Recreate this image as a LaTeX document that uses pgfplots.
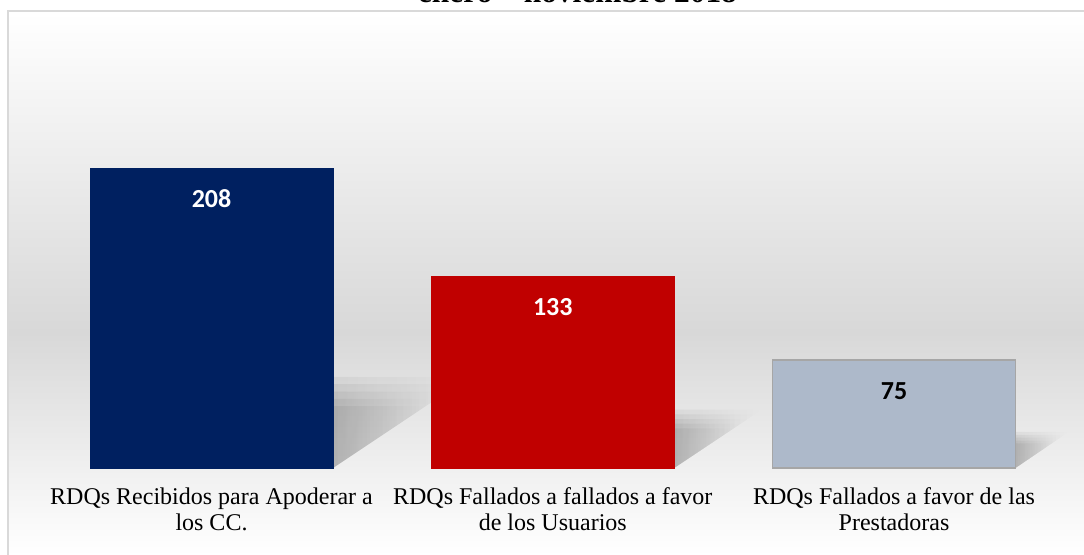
\documentclass[border=0pt]{standalone}
\usepackage{pgfplots}
\pgfplotsset{compat=1.18}
\usepackage{fontspec}
\setmainfont{Liberation Serif}
\newfontfamily\valfont{Carlito}
\usetikzlibrary{fadings}
\definecolor{navy}{HTML}{002060}
\definecolor{cred}{HTML}{C00000}
\definecolor{cgray}{HTML}{ADB9CA}
\definecolor{cgrayb}{HTML}{A6A6A6}
\definecolor{framec}{HTML}{D9D9D9}
\definecolor{bgmid}{HTML}{D8D8D8}
\pgfdeclareverticalshading{bgshade}{100bp}{color(0bp)=(white); color(25bp)=(white); color(45.5bp)=(bgmid); color(75bp)=(white); color(100bp)=(white)}
\tikzfading[name=fadeR, left color=transparent!0, right color=transparent!100]
\pgfplotsset{shd/.style={draw=none, fill=black, fill opacity=0.055, path fading=fadeR}}
\begin{document}
\begin{tikzpicture}
\useasboundingbox (0,0) rectangle (542pt,277.5pt);
\clip (0,0) rectangle (542pt,277.5pt);
\shade[shading=bgshade] (4.5pt,0) rectangle (542pt,271.5pt);
\draw[framec, line width=1pt] (3.75pt,0) -- (3.75pt,272pt) -- (542pt,272pt);
\node[anchor=base, font=\bfseries\fontsize{15.7}{18}\selectfont, inner sep=0pt] at (288.75pt,276pt) {enero -- noviembre 2018};
\begin{axis}[
  at={(20.45pt,43.5pt)}, anchor=south west, scale only axis,
  width=511.875pt, height=180.3pt,
  xmin=-0.5, xmax=2.5, ymin=0, ymax=250, clip=false,
  axis line style={draw=none}, ytick=\empty, xtick={0,1,2}, major tick length=0pt,
  xticklabels={{RDQs Recibidos para Apoderar a\\los CC.},{RDQs Fallados a fallados a favor\\de los Usuarios},{RDQs Fallados a favor de las\\Prestadoras}},
  xticklabel style={align=center, font=\fontsize{12}{13}\selectfont, yshift=-6.3pt, text=black},
  /pgf/number format/assume math mode=true,
]
% soft perspective shadows (layered)
\addplot[shd] coordinates {(0.356,0) (0.628,42.9) (0.356,42.9)} -- cycle;
\addplot[shd] coordinates {(0.356,0) (0.660,48.0) (0.356,48.0)} -- cycle;
\addplot[shd] coordinates {(0.356,0) (0.692,53.0) (0.356,53.0)} -- cycle;
\addplot[shd] coordinates {(0.356,0) (0.724,58.1) (0.356,58.1)} -- cycle;
\addplot[shd] coordinates {(0.356,0) (0.756,63.1) (0.356,63.1)} -- cycle;
\addplot[shd] coordinates {(1.356,0) (1.530,27.5) (1.356,27.5)} -- cycle;
\addplot[shd] coordinates {(1.356,0) (1.551,30.7) (1.356,30.7)} -- cycle;
\addplot[shd] coordinates {(1.356,0) (1.571,33.9) (1.356,33.9)} -- cycle;
\addplot[shd] coordinates {(1.356,0) (1.592,37.1) (1.356,37.1)} -- cycle;
\addplot[shd] coordinates {(1.356,0) (1.612,40.4) (1.356,40.4)} -- cycle;
\addplot[shd] coordinates {(2.356,0) (2.462,17) (2.356,17)} -- cycle;
\addplot[shd] coordinates {(2.356,0) (2.475,19) (2.356,19)} -- cycle;
\addplot[shd] coordinates {(2.356,0) (2.487,21) (2.356,21)} -- cycle;
\addplot[shd] coordinates {(2.356,0) (2.500,23) (2.356,23)} -- cycle;
\addplot[shd] coordinates {(2.356,0) (2.512,25) (2.356,25)} -- cycle;
% bars
\addplot[ybar, bar width=121.5pt, bar shift=0pt, fill=navy, draw=navy, nodes near coords,
  every node near coord/.append style={anchor=center, yshift=-15.5pt, text=white, font=\valfont\bfseries\fontsize{13}{15}\selectfont}] coordinates {(0,208)};
\addplot[ybar, bar width=121.5pt, bar shift=0pt, fill=cred, draw=cred, nodes near coords,
  every node near coord/.append style={anchor=center, yshift=-15.5pt, text=white, font=\valfont\bfseries\fontsize{13}{15}\selectfont}] coordinates {(1,133)};
\addplot[ybar, bar width=121.5pt, bar shift=0pt, fill=cgray, draw=cgrayb, line width=0.75pt, nodes near coords,
  every node near coord/.append style={anchor=center, yshift=-15.5pt, text=black, font=\valfont\bfseries\fontsize{13}{15}\selectfont}] coordinates {(2,75)};
\end{axis}
\end{tikzpicture}
\end{document}
